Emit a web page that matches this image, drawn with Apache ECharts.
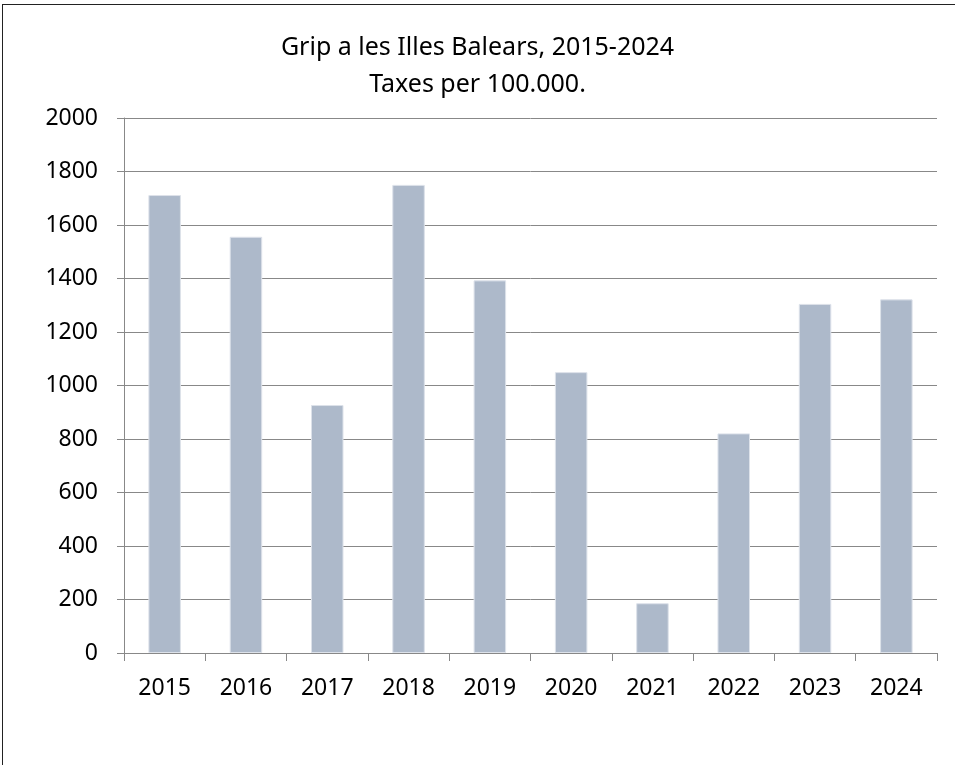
<!DOCTYPE html>
<html>
<head>
<meta charset="utf-8">
<script src="https://cdn.jsdelivr.net/npm/echarts@6/dist/echarts.min.js"></script>
<style>
  html, body { margin: 0; padding: 0; background: #fff; }
  .frame {
    position: absolute; left: 2px; top: 4px;
    width: 1000px; height: 1000px;
    border-left: 1px solid #222; border-top: 1px solid #222;
  }
  #chart { position: absolute; left: 0; top: 0; width: 955px; height: 765px; }
</style>
</head>
<body>
<div class="frame"></div>
<div id="chart"></div>
<script>
// anys i taxes per 100.000 (llegit del gràfic)
const years = ['2015', '2016', '2017', '2018', '2019', '2020', '2021', '2022', '2023', '2024'];
const rates = [1712, 1556, 927, 1750, 1393, 1050, 186, 821, 1305, 1322];
const yTicks = { min: 0, max: 2000, interval: 200 };

const chart = echarts.init(document.getElementById('chart'), null, { renderer: 'canvas' });

const axisGray = '#888888';

chart.setOption({
  animation: false,
  backgroundColor: 'transparent',
  textStyle: { fontFamily: 'Noto Sans' },
  title: {
    text: 'Grip a les Illes Balears, 2015-2024\nTaxes per 100.000.',
    left: 'center',
    top: 24,
    textStyle: {
      fontFamily: 'Noto Sans',
      fontSize: 25,
      fontWeight: 'normal',
      color: '#000',
      lineHeight: 37,
    },
  },
  grid: {
    left: 124,
    right: 18,
    top: 118,
    bottom: 112,
    containLabel: false,
  },
  xAxis: {
    type: 'category',
    data: years,
    axisLine: { lineStyle: { color: axisGray, width: 1 } },
    axisTick: { show: true, length: 8, lineStyle: { color: axisGray } },
    axisLabel: { color: '#000', fontSize: 23, margin: 24, fontFamily: 'Noto Sans' },
    splitLine: { show: false },
  },
  yAxis: {
    type: 'value',
    min: yTicks.min,
    max: yTicks.max,
    interval: yTicks.interval,
    axisLine: { show: true, lineStyle: { color: axisGray, width: 1 } },
    axisTick: { show: true, inside: false, length: 7, lineStyle: { color: axisGray } },
    axisLabel: {
      color: '#000', fontSize: 23, margin: 26, fontFamily: 'Noto Sans',
      formatter: (v) => String(v),
    },
    splitLine: { show: true, lineStyle: { color: axisGray, width: 1 } },
  },
  series: [{
    type: 'bar',
    data: rates,
    barWidth: '40%',
    itemStyle: { color: '#adb9ca', borderColor: '#dde2ea', borderWidth: 1 },
  }],
});
</script>
</body>
</html>
